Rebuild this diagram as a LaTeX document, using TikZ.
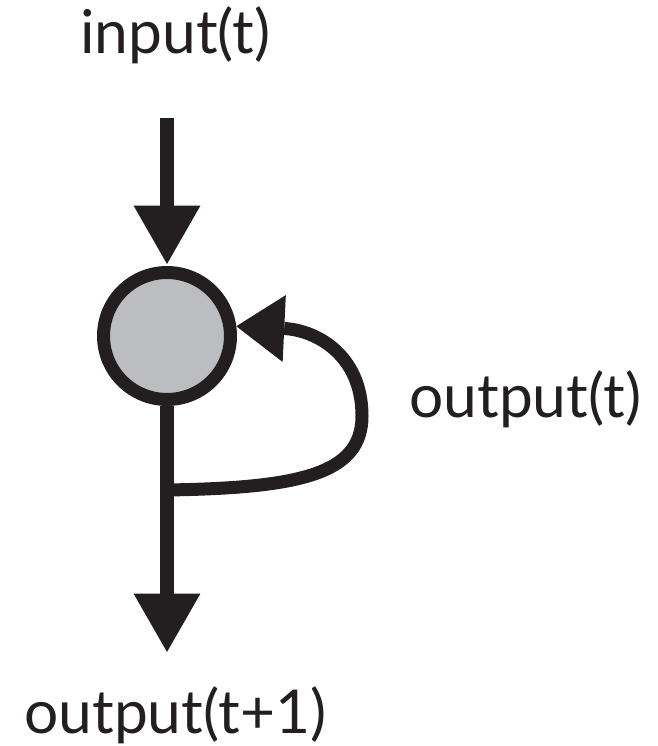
\documentclass[tikz,border=0pt]{standalone}
\usepackage{fontspec}
\setmainfont{Lato}
\usepackage{tikz}
\usetikzlibrary{arrows.meta,positioning}
\definecolor{inkblack}{RGB}{35,31,32}
\definecolor{unitgray}{RGB}{188,189,193}
\tikzset{
  wire/.style={draw=inkblack,line width=0.28cm},
  flow/.style={wire,-{Triangle[length=1.17cm,width=1.34cm,line width=0pt]}},
  feedback/.style={draw=inkblack,line width=0.26cm,
                   -{Triangle[length=0.96cm,width=1.34cm,line width=0pt]}},
  unit/.style={circle,draw=inkblack,fill=unitgray,line width=0.26cm,
               minimum size=2.54cm,inner sep=0pt},
  lab/.style={font=\fontsize{34.4}{40}\selectfont,text=inkblack,inner sep=0pt},
}

\begin{document}
\begin{tikzpicture}[x=0.02cm,y=0.02cm]
  \path[use as bounding box] (0,0) rectangle (657,746);
  \node[unit] (cell) at (167,410) {};
  \coordinate (inTop) at (167,628);
  \coordinate (outTip) at (167,94);
  \coordinate (split) at (167,256);
  \draw[flow,shorten >=0.04cm] (inTop) -- (cell.north);
  \draw[flow] (cell.south) -- (outTip);
  \draw[feedback] (split) .. controls (300,258) and (362,272) .. (362,330)
    .. controls (362,392) and (315,416) .. (cell.8);

  \node[lab,anchor=base west] (inLab) at (80,692) {input(t)};
  \node[lab,anchor=base west] (fbLab) at (409,328) {output(t)};
  \node[lab,anchor=base west] (outLab) at (24,12) {output(t+1)};
\end{tikzpicture}
\end{document}
